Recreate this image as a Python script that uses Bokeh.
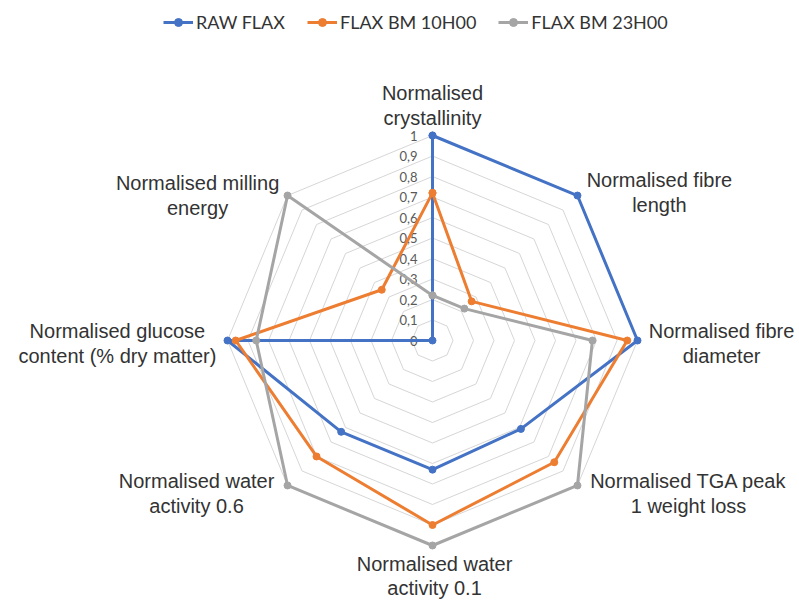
import numpy as np
from bokeh.plotting import figure
from bokeh.models import Legend, LegendItem, ColumnDataSource
from bokeh.core.properties import value
from bokeh.embed import file_html
from bokeh.resources import INLINE

# ---------------- data ----------------
categories = [
    "Normalised\ncrystallinity",
    "Normalised fibre\nlength",
    "Normalised fibre\ndiameter",
    "Normalised TGA peak\n1 weight loss",
    "Normalised water\nactivity 0.1",
    "Normalised water\nactivity 0.6",
    "Normalised glucose\ncontent (% dry matter)",
    "Normalised milling\nenergy",
]
raw_flax = [1.0, 1.0, 1.0, 0.61, 0.63, 0.63, 1.0, 0.0]
flax_bm_10h00 = [0.72, 0.27, 0.95, 0.84, 0.90, 0.80, 0.96, 0.35]
flax_bm_23h00 = [0.22, 0.22, 0.78, 1.0, 1.0, 1.0, 0.86, 1.0]
series_names = ["RAW FLAX", "FLAX BM 10H00", "FLAX BM 23H00"]
tick_values = [0, 0.1, 0.2, 0.3, 0.4, 0.5, 0.6, 0.7, 0.8, 0.9, 1.0]
tick_labels = ["0", "0,1", "0,2", "0,3", "0,4", "0,5", "0,6", "0,7", "0,8", "0,9", "1"]

# ---------------- layout / style ----------------
colors = ["#4472C4", "#ED7D31", "#A5A5A5"]
label_pos = [(0.0, 1.146), (1.107, 0.722), (1.41, -0.015), (1.249, -0.746),
             (0.01, -1.15), (-1.151, -0.746), (-1.537, -0.015), (-1.146, 0.707)]

W, H = 799, 601
R = 205.0
cx, cy = 432.0, 340.0  # center in frame pixels from top-left
x0 = -cx / R
x1 = x0 + W / R
y1 = cy / R
y0 = y1 - H / R

p = figure(width=W, height=H, x_range=(x0, x1), y_range=(y0, y1),
           output_backend="svg", toolbar_location=None, min_border=0)
p.axis.visible = False
p.grid.visible = False
p.outline_line_color = None
p.background_fill_color = "white"

n = len(categories)
theta = np.arange(n) * 2 * np.pi / n

# grid rings
xs_r, ys_r = [], []
for v in tick_values[1:]:
    xs_r.append(list(v * np.sin(np.append(theta, theta[0]))))
    ys_r.append(list(v * np.cos(np.append(theta, theta[0]))))
p.multi_line(xs_r, ys_r, line_color="#D6D6D6", line_width=1)

# tick labels
p.text(x=[0] * len(tick_values), y=tick_values, text=tick_labels,
       text_align="right", text_baseline="middle", x_offset=-15,
       text_font=value("Lato"), text_font_size="13px", text_color="#595959")

# series
items = []
for name, vals, col in zip(series_names, [raw_flax, flax_bm_10h00, flax_bm_23h00], colors):
    v = np.array(vals + [vals[0]])
    t = np.append(theta, theta[0])
    src = ColumnDataSource(dict(x=v * np.sin(t), y=v * np.cos(t)))
    l = p.line("x", "y", source=src, line_color=col, line_width=3)
    s = p.scatter("x", "y", source=src, size=7, fill_color=col, line_color=col)
    items.append(LegendItem(label=name, renderers=[l, s]))

# category labels
p.text(x=[q[0] for q in label_pos], y=[q[1] for q in label_pos], text=categories,
       text_align="center", text_baseline="middle",
       text_font=value("Liberation Sans"), text_font_size="20px",
       text_color="#333333", text_line_height=1.1)

legend = Legend(items=items, orientation="horizontal", location=(163, 568),
                glyph_width=30, glyph_height=20, label_standoff=3, spacing=22,
                padding=2, margin=0, border_line_color=None,
                background_fill_alpha=0,
                label_text_font="Lato", label_text_font_size="18px",
                label_text_color="#333333")
p.add_layout(legend)

open("out.html", "w").write(file_html(p, INLINE))
